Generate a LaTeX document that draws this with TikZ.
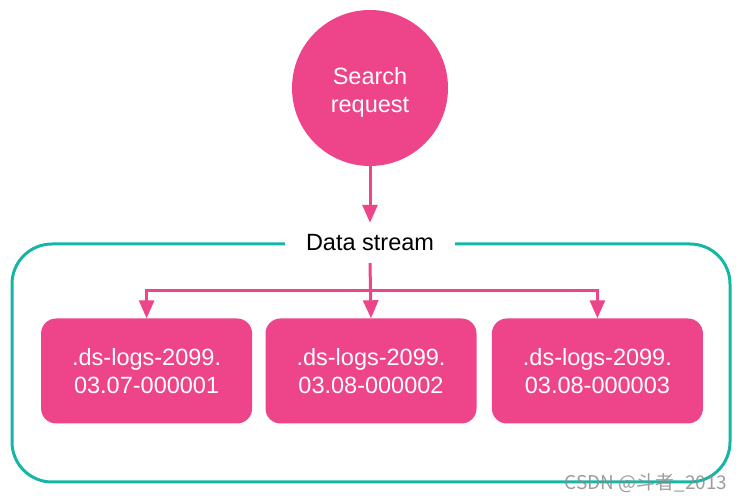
\documentclass[tikz,border=0pt]{standalone}
\usepackage{fontspec}
\setmainfont{Liberation Sans}
\newfontfamily\cjkfont{Noto Sans CJK SC}
\usepackage{tikz}
\usetikzlibrary{positioning,calc,arrows.meta}
\definecolor{reqpink}{RGB}{237,68,138}
\definecolor{streamteal}{RGB}{22,182,166}
\definecolor{markgray}{RGB}{140,140,140}

\begin{document}
\begin{tikzpicture}[x=1pt, y=1pt, every node/.style={font=\fontsize{23.5}{28}\selectfont}]
  \tikzstyle{req}=[circle, fill=reqpink, minimum size=156pt, inner sep=0pt]
  \tikzstyle{backing}=[rounded corners=15pt, fill=reqpink, text=white, minimum width=211pt, minimum height=105pt, align=center, inner sep=0pt]
  \tikzstyle{link}=[draw=reqpink, line width=3pt, -{Triangle[length=18pt, width=15pt]}]
  \useasboundingbox (0,0) rectangle (744,503);
  % data stream frame, the label covers a gap in its top edge
  \draw[streamteal, line width=3pt, rounded corners=40pt] (12,21) rectangle (730,259);
  \node[fill=white, minimum height=40pt, inner xsep=21pt, inner ysep=0pt] (ds) at (370,260) {Data stream};
  \node[req, label={[text=white, align=center, yshift=-4pt]center:Search\\request}] (search) at (370,415) {};
  \node[backing] (log2) at (371,132) {.ds-logs-2099.\\03.08-000002};
  \node[backing, left=13pt of log2] (log1) {.ds-logs-2099.\\03.07-000001};
  \node[backing, right=15pt of log2] (log3) {.ds-logs-2099.\\03.08-000003};
  \draw[link] (search) -- (ds.north);
  \coordinate (fork) at ($(ds.south)+(0,-27)$);
  \draw[link] (ds.south) -- (log2.north);
  \draw[link] (fork) -| (log1.north);
  \draw[link] (fork) -| (log3.north);
  \node[font=\cjkfont\fontsize{19}{22}\selectfont, text=markgray, opacity=0.85] (mark) at (646,20) {CSDN @斗者\_2013};
\end{tikzpicture}
\end{document}
